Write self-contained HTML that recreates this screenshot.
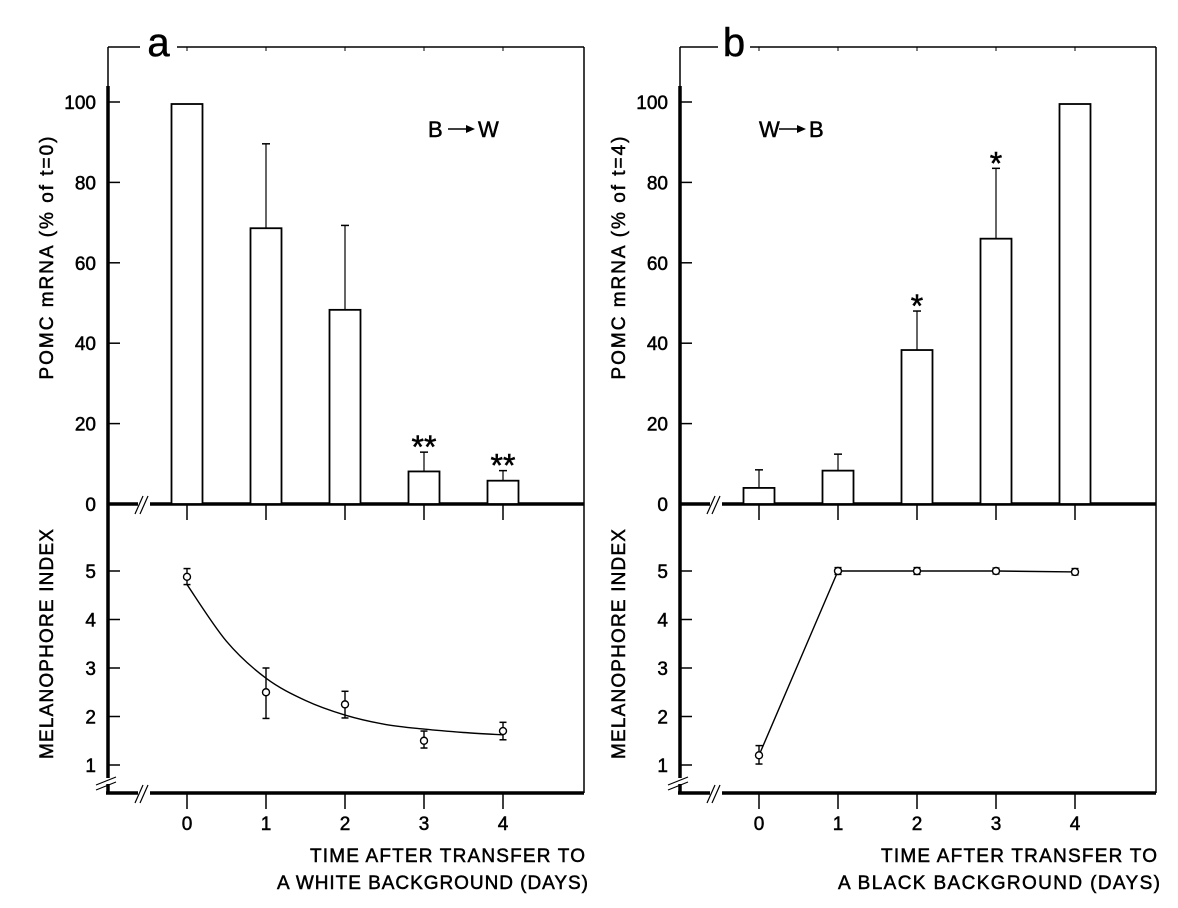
<!DOCTYPE html>
<html><head><meta charset="utf-8"><style>
html,body{margin:0;padding:0;background:#fff;}
svg{display:block;font-family:"Liberation Sans",sans-serif;}
svg text{stroke:#000;stroke-width:0.5;}
</style></head><body>
<svg id="fig" width="1178" height="908" viewBox="0 0 1178 908"></svg>
<script>
const days=[0,1,2,3,4];
const yTicksTop=[0,20,40,60,80,100];
const yTicksBot=[1,2,3,4,5];
const aPomc=[99.5,68.6,48.3,8.1,5.8];
const aPomcErr=[0,21,21,4.8,2.5];
const aMel=[4.88,2.5,2.25,1.5,1.7];
const aMelHi=[5.05,3.0,2.52,1.7,1.88];
const aMelLo=[4.72,1.96,1.97,1.35,1.52];
const aCurveT=[0,0.5,1,1.5,2,2.5,3,3.5,4];
const aCurveV=[4.72,3.55,2.79,2.33,2.03,1.84,1.74,1.67,1.62];
const aStars=["","","","**","**"];
const bPomc=[4,8.3,38.3,66,99.5];
const bPomcErr=[4.5,4.1,9.7,17.5,0];
const bMel=[1.2,5.0,5.0,5.0,4.98];
const bMelHi=[1.4,5.07,5.07,5.06,5.05];
const bMelLo=[1.02,4.93,4.93,4.94,4.92];
const bStars=["","","*","*",""];

const NS="http://www.w3.org/2000/svg";
const svg=document.getElementById('fig');
function mk(tag,attrs,parent){const e=document.createElementNS(NS,tag);for(const k in attrs)e.setAttribute(k,attrs[k]);(parent||svg).appendChild(e);return e;}
function line(x1,y1,x2,y2,w,p){return mk('line',{x1,y1,x2,y2,stroke:'#000','stroke-width':w||1.5},p);}

function panel(o){
  const g=mk('g',{});
  
  
  const L=o.left,R=o.left+476,T=47,M=504,B=793;
  const xs=d=>o.left+79+79*d;
  const yt=v=>M-v*4.02;
  const yb=v=>571+(5-v)*48.5;
  line(L,T,o.gapL,T,1.5,g); line(o.gapR,T,R,T,1.5,g);
  line(R,T,R,B,1.5,g);
  line(L,T,L,86,1.5,g); line(L,86,L,M,3.5,g);
  line(L,M,R,M,3.5,g);
  line(L,M,L,B,3.5,g);
  line(L-2,B,R,B,3.5,g);
  days.forEach(d=>line(xs(d),T,xs(d),T+4,1,g));
  [[L+36,M],[L+36,B]].forEach(([x,y])=>{mk('rect',{x:x-6,y:y-3,width:12,height:7,fill:'#fff'},g);line(x-9,y+10,x-1,y-8,1.2,g);line(x-4,y+10,x+4,y-8,1.2,g);});
  mk('rect',{x:L-3,y:778,width:7,height:6,fill:'#fff'},g);
  line(L-12,785,L+8,777,1.2,g);line(L-12,790,L+8,782,1.2,g);
  const title=mk('text',{x:(o.gapL+o.gapR)/2,y:56,'font-size':40,'text-anchor':'middle'},g);
  title.textContent=o.letter;
  
  
  yTicksTop.forEach(v=>{line(L,yt(v),L+12,yt(v),1.5,g);
    const t=mk('text',{x:L-12,y:yt(v)+7,'font-size':19,'text-anchor':'end'},g);t.textContent=v;
    
    });
  yTicksBot.forEach(v=>{line(L,yb(v),L+12,yb(v),1.5,g);
    const t=mk('text',{x:L-12,y:yb(v)+7,'font-size':19,'text-anchor':'end'},g);t.textContent=v;
    
    });
  days.forEach(d=>{line(xs(d),M,xs(d),M+16,1.5,g);line(xs(d),B,xs(d),B+16,1.5,g);
    const t=mk('text',{x:xs(d),y:830,'font-size':19,'text-anchor':'middle'},g);t.textContent=d;
    
    });
  days.forEach((d,i)=>{const v=o.pomc[i],x=xs(d);
    if(o.err[i]>0){line(x,yt(v),x,yt(v+o.err[i]),1.2,g);line(x-4,yt(v+o.err[i]),x+4,yt(v+o.err[i]),1.5,g);}
    const r=mk('rect',{x:x-15.5,y:yt(v),width:31,height:M-yt(v),fill:'#fff',stroke:'#000','stroke-width':1.8},g);
    
    
    if(o.stars[i]){const s=mk('text',{x:x,y:yt(v+o.err[i])+6,'font-size':32,'text-anchor':'middle'},g);s.textContent=o.stars[i];
      
      }
  });
  const pts=o.curveT.map((t,i)=>[xs(t),yb(o.curveV[i])]);
  let dstr='M'+pts[0].join(',');
  if(o.smooth){
    for(let i=0;i<pts.length-1;i++){const p0=pts[Math.max(0,i-1)],p1=pts[i],p2=pts[i+1],p3=pts[Math.min(pts.length-1,i+2)];
      dstr+=' C'+(p1[0]+(p2[0]-p0[0])/6)+','+(p1[1]+(p2[1]-p0[1])/6)+' '+(p2[0]-(p3[0]-p1[0])/6)+','+(p2[1]-(p3[1]-p1[1])/6)+' '+p2[0]+','+p2[1];}
  } else {
    for(let i=1;i<pts.length;i++) dstr+=' L'+pts[i].join(',');
  }
  const path=mk('path',{d:dstr,fill:'none',stroke:'#000','stroke-width':1.4},g);
  
  
  days.forEach((d,i)=>{const x=xs(d);
    line(x,yb(o.hi[i]),x,yb(o.lo[i]),1.4,g);
    line(x-3.5,yb(o.hi[i]),x+3.5,yb(o.hi[i]),1.5,g);line(x-3.5,yb(o.lo[i]),x+3.5,yb(o.lo[i]),1.5,g);
    const c=mk('circle',{cx:x,cy:yb(o.mel[i]),r:3.5,fill:'#fff',stroke:'#000','stroke-width':1.4},g);
    
    });
  const ax=o.arrowX;
  const a1=mk('text',{x:ax,y:137,'font-size':22},g);a1.textContent=o.arrow[0];
  line(ax+20,129,ax+40,129,1.5,g);mk('polygon',{points:`${ax+38},125 ${ax+47},129 ${ax+38},133`,fill:'#000'},g);
  const a2=mk('text',{x:ax+50,y:137,'font-size':22},g);a2.textContent=o.arrow[1];
  const yt1=mk('text',{transform:`translate(${L-55},258) rotate(-90)`,'font-size':19,'text-anchor':'middle',textLength:243,lengthAdjust:'spacing'},g);
  yt1.textContent=o.ytitle;
  
  
  const yt2=mk('text',{transform:`translate(${L-55},644) rotate(-90)`,'font-size':19,'text-anchor':'middle',textLength:230,lengthAdjust:'spacing'},g);
  yt2.textContent='MELANOPHORE INDEX';
  
  
  const x1=mk('text',{x:R+1,y:862,'font-size':19,'text-anchor':'end',textLength:o.tl1,lengthAdjust:'spacing'},g);x1.textContent='TIME AFTER TRANSFER TO';
  
  
  const x2=mk('text',{x:R+4,y:889,'font-size':19,'text-anchor':'end',textLength:o.tl2,lengthAdjust:'spacing'},g);x2.textContent=o.xtitle2;
  
  
}
panel({name:'panel-a',left:108,gapL:140,gapR:177,letter:'a',pomc:aPomc,err:aPomcErr,stars:aStars,mel:aMel,hi:aMelHi,lo:aMelLo,curveT:aCurveT,curveV:aCurveV,smooth:true,arrow:['B','W'],arrowX:428,ytitle:'POMC mRNA (% of t=0)',xtitle2:'A WHITE BACKGROUND (DAYS)',tl1:275,tl2:311});
panel({name:'panel-b',left:680,gapL:718,gapR:750,letter:'b',pomc:bPomc,err:bPomcErr,stars:bStars,mel:bMel,hi:bMelHi,lo:bMelLo,curveT:days,curveV:bMel,smooth:false,arrow:['W','B'],arrowX:759,ytitle:'POMC mRNA (% of t=4)',xtitle2:'A BLACK BACKGROUND (DAYS)',tl1:276,tl2:322});
</script>
</body></html>
